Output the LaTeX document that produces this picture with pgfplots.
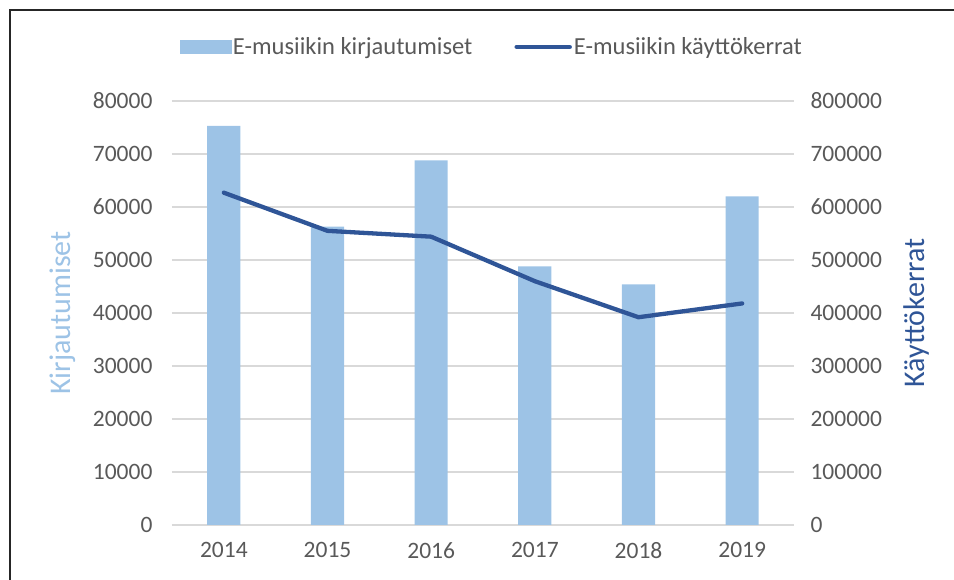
\documentclass[border=0pt]{standalone}
\usepackage{fontspec}
\setmainfont{Carlito}
\usepackage{pgfplots}
\pgfplotsset{compat=1.18}

\definecolor{barblue}{HTML}{9DC3E6}
\definecolor{lineblue}{HTML}{2F5597}
\definecolor{ticktext}{HTML}{595959}
\definecolor{gridgrey}{HTML}{D9D9D9}

\pgfplotsset{
  chartbase/.style={
    scale only axis, width=622pt, height=424pt,
    xmin=-0.5, xmax=5.5, ymin=0,
    axis line style={draw=none},
    major tick length=0pt,
    tick label style={font=\fontsize{23.5}{28}\selectfont, text=ticktext},
    /pgf/number format/fixed,
    /pgf/number format/assume math mode=true,
    /pgf/number format/1000 sep={},
    scaled y ticks=false,
  },
}

\begin{document}
\begin{tikzpicture}
\useasboundingbox (-172pt,-55pt) rectangle (782pt,525pt);
\draw[line width=2pt, black!85] (-162pt,-60pt) -- (-162pt,515pt) -- (790pt,515pt);

% left axis: logins as bars
\begin{axis}[chartbase,
  ymax=80000, ytick={0,10000,...,80000},
  xtick={0,...,5}, xticklabels={2014,2015,2016,2017,2018,2019},
  xticklabel style={yshift=-14pt},
  yticklabel style={xshift=-16pt},
  ymajorgrids, grid style={gridgrey, line width=1.2pt},
  ylabel={Kirjautumiset},
  ylabel style={at={(rel axis cs:0,0.5)}, anchor=center, yshift=109pt,
    font=\fontsize{30}{36}\selectfont, text=barblue},
]
\addplot[ybar, bar width=0.32, fill=barblue, draw=none]
  coordinates {(0,75300) (1,56300) (2,68800) (3,48800) (4,45400) (5,62000)};
\end{axis}

% right axis: usage counts as a line
\begin{axis}[chartbase,
  ymax=800000, ytick={0,100000,...,800000},
  xtick=\empty,
  yticklabel pos=right,
  yticklabel style={xshift=13pt},
  ylabel={Käyttökerrat},
  ylabel style={at={(rel axis cs:1,0.5)}, anchor=center, yshift=-123pt,
    font=\fontsize{30}{36}\selectfont, text=lineblue},
  legend columns=2,
  legend style={at={(0.514,1)}, anchor=center, yshift=54pt, draw=none, fill=none,
    font=\fontsize{24.5}{29}\selectfont, text=ticktext,
    /tikz/every even column/.append style={column sep=40pt}},
]
\addlegendimage{legend image code/.code={\fill[barblue] (0pt,-6.3pt) rectangle (51pt,6.3pt);}}
\addlegendentry{E-musiikin kirjautumiset}
\addplot[lineblue, line width=4.3pt, line cap=round, line join=round,
  legend image code/.code={\draw[lineblue, line width=4.5pt, line cap=round] (2pt,0pt) -- (55pt,0pt);}]
  coordinates {(0,627000) (1,555000) (2,544000) (3,460000) (4,392000) (5,418000)};
\addlegendentry{E-musiikin käyttökerrat}
\end{axis}
\end{tikzpicture}
\end{document}
